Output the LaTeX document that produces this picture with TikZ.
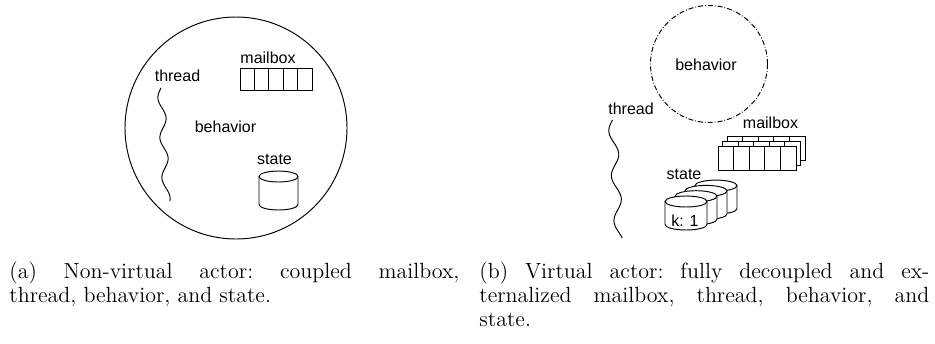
\documentclass[tikz,border=0pt]{standalone}
\usepackage{fontspec}
\newfontfamily\labelfont{Liberation Sans}
\begin{document}
\begin{tikzpicture}[x=0.5pt,y=-0.5pt,
  lbl/.style={font=\labelfont\fontsize{8}{9.6}\selectfont, inner sep=0pt, anchor=base},
  captext/.style={font=\fontsize{11}{12}\selectfont\frenchspacing, inner sep=0pt, anchor=north west, text width=225pt, align=justify},
  ln/.style={line width=0.48pt, black},
  box/.style={ln, fill=white}]
\useasboundingbox (0,0) rectangle (935,343);

% ---------- (a) non-virtual actor ----------
\draw[ln] (236,128) circle[radius=111];
% mailbox
\draw[box] (240,68) rectangle (312,90);
\foreach \i in {1,...,4} \draw[ln] ({240+14.4*\i},68) -- ({240+14.4*\i},90);
\node[lbl] (mbA) at (268,63.3) {mailbox};
% thread
\node[lbl] (thA) at (177.5,81.7) {thread};
\draw[ln] plot[domain=0:113, samples=150, smooth, variable=\t] ({161+0.05*\t-3.6*sin(9*\t)},{88+\t});
% behavior
\node[lbl] (bhA) at (225.5,132.5) {behavior};
% state
\node[lbl] (stA) at (274.5,164) {state};
\draw[box] (259,176.5) -- (259,204.5) arc[start angle=180, end angle=0, x radius=19.5, y radius=5.5] -- (298,176.5);
\draw[box] (278.5,176.5) ellipse[x radius=19.5, y radius=5.5];

% ---------- (b) virtual actor ----------
\draw[ln, dash pattern=on 2.5pt off 1pt on 0.4pt off 1pt] (709,64) circle[radius=58.5];
\node[lbl] (bhB) at (706,70) {behavior};
% thread
\node[lbl] (thB) at (631,114.3) {thread};
\draw[ln] plot[domain=0:118, samples=150, smooth, variable=\t] ({612.5+0.057*\t-4.3*sin(8*\t)},{120+\t});
% mailbox
\node[lbl] (mbB) at (770.5,128.3) {mailbox};
\foreach \k in {2,1,0} {
  \begin{scope}[shift={({4.5*\k},{-5*\k})}]
    \draw[box] (718,146.5) rectangle (796,170);
    \foreach \i in {1,...,4} \draw[ln] ({718+15.6*\i},146.5) -- ({718+15.6*\i},170);
  \end{scope}
}
% state
\node[lbl] (stB) at (684,179) {state};
\foreach \k in {3,2,1,0} {
  \begin{scope}[shift={({10*\k},{-5.3*\k})}]
    \draw[box] (665,201.5) -- (665,224.5) arc[start angle=180, end angle=0, x radius=21, y radius=5.5] -- (707,201.5);
    \draw[box] (686,201.5) ellipse[x radius=21, y radius=5.5];
  \end{scope}
}
\node[lbl] (kB) at (685,226.7) {k: 1};

% ---------- captions ----------
\node[captext] (capA) at (9,261.5) {(a) Non-virtual actor: coupled mailbox,\linebreak thread, behavior, and state.};
\node[captext] (capB) at (479,261.5) {(b) Virtual actor: fully decoupled and ex-\linebreak ternalized mailbox, thread, behavior, and\linebreak state.};
\end{tikzpicture}
\end{document}
